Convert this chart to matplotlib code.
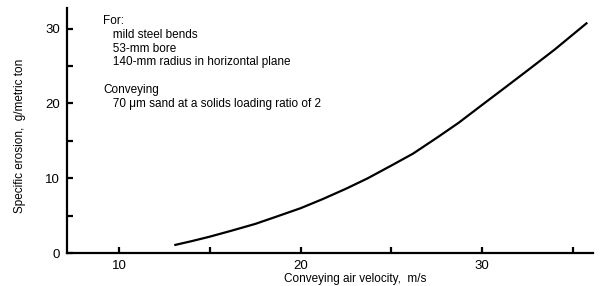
import numpy as np
import matplotlib.pyplot as plt

plt.rcParams['font.family'] = ['Liberation Sans', 'DejaVu Sans']

# curve
velocity = [13.1, 14.0, 15.0, 16.2, 17.5, 18.7, 20.0, 21.2, 22.5, 23.7,
            25.0, 26.2, 27.5, 28.7, 30.0, 31.2, 32.5, 34.0, 35.75]
erosion = [1.1, 1.6, 2.2, 3.0, 3.9, 4.9, 6.0, 7.2, 8.6, 10.0,
           11.7, 13.3, 15.4, 17.4, 19.8, 22.0, 24.4, 27.2, 30.7]

x_ticks = [10, 15, 20, 25, 30, 35]
x_labels = ['10', '', '20', '', '30', '']
y_ticks = [0, 5, 10, 15, 20, 25, 30]
y_labels = ['0', '', '10', '', '20', '', '30']

note_lines = ['For:', '   mild steel bends', '   53-mm bore',
              '   140-mm radius in horizontal plane', '',
              'Conveying', '   70 \u03bcm sand at a solids loading ratio of 2']

fig = plt.figure(figsize=(6, 2.86), dpi=100)
ax = fig.add_axes([0.112, 0.115, 0.876, 0.857])

ax.plot(velocity, erosion, color='k', lw=1.6)

ax.set_xlim(7.14, 36.1)
ax.set_ylim(0, 32.75)
ax.set_xticks(x_ticks)
ax.set_xticklabels(x_labels)
ax.set_yticks(y_ticks)
ax.set_yticklabels(y_labels)
ax.tick_params(direction='in', length=4, width=1.6, labelsize=9.5, pad=5)

for s in ['top', 'right']:
    ax.spines[s].set_visible(False)
for s in ['left', 'bottom']:
    ax.spines[s].set_linewidth(1.6)

ax.set_xlabel('Conveying air velocity,  m/s', fontsize=8.5)
ax.xaxis.set_label_coords(0.548, -0.083)
ax.set_ylabel('Specific erosion,  g/metric ton', fontsize=8.5)
ax.yaxis.set_label_coords(-0.078, 0.48)

fig.text(103 / 600, 1 - 15 / 286, '\n'.join(note_lines), fontsize=8.5,
         va='top', ha='left', linespacing=1.2)

plt.savefig('out.png')
